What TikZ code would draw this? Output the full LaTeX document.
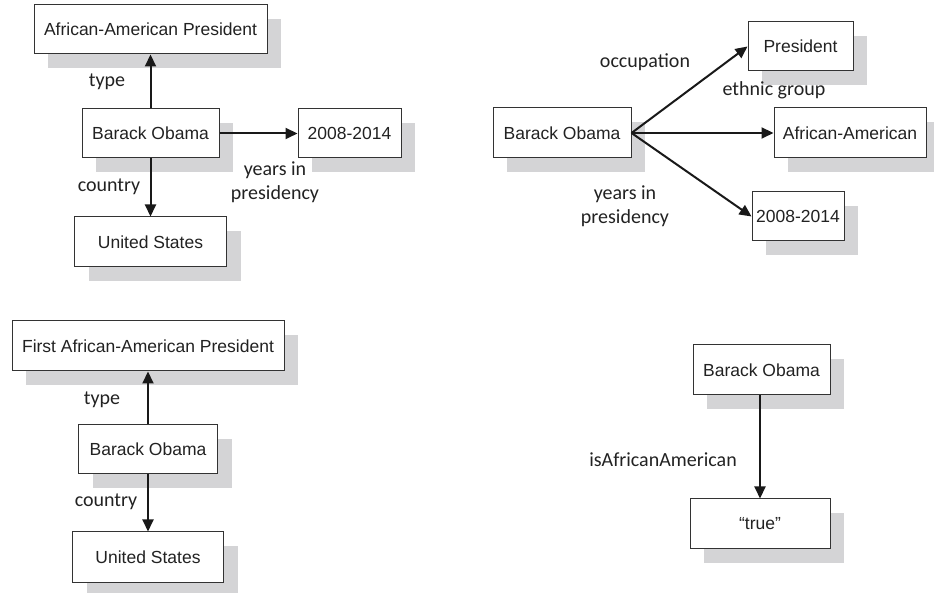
\documentclass[tikz,border=0pt]{standalone}
\usepackage{fontspec}
\setmainfont{Liberation Sans}
\newfontfamily\labelfont{Carlito}
\usetikzlibrary{arrows.meta,shadows}
\definecolor{shadowgray}{HTML}{D4D4D6}
\definecolor{boxline}{HTML}{333333}
\definecolor{inkgray}{HTML}{222222}
\tikzset{
  entity/.style={draw=boxline, line width=1pt, fill=white, inner sep=0pt,
    minimum height=49pt, font=\fontsize{17.5}{20}\selectfont, text=inkgray,
    drop shadow={shadow xshift=14pt, shadow yshift=-14pt, fill=shadowgray, opacity=1}},
  rel/.style={draw=black!90, line width=2pt,
    -{Triangle[length=12pt,width=11pt]}},
  edgelabel/.style={font=\labelfont\fontsize{20}{24}\selectfont, text=inkgray,
    align=center, inner sep=0pt}
}
\begin{document}
\begin{tikzpicture}[x=1pt,y=1pt]
\useasboundingbox (0,0) rectangle (934,593);

% Panel 1: Obama typed as an African-American President
\node[entity, minimum width=233pt] (ap1) at (150.5,563.5) {African-American President};
\node[entity, minimum width=137pt] (bo1) at (150.5,459.5) {Barack Obama};
\node[entity, minimum width=103pt] (yr1) at (349.5,459.5) {2008-2014};
\node[entity, minimum width=152pt, minimum height=50pt] (us1) at (150.5,351) {United States};
\draw[rel] (bo1.north) -- (ap1.south);
\draw[rel] (bo1.south) -- (us1.north);
\draw[rel] (bo1.east) -- (yr1.west);
\node[edgelabel] (t1) at (107,511) {type};
\node[edgelabel] (c1) at (109,406) {country};
\node[edgelabel] (y1) at (275,411) {years in\\presidency};

% Panel 2: separate occupation and ethnic group relations
\node[entity, minimum width=138pt, minimum height=50pt] (bo2) at (562,460) {Barack Obama};
\node[entity, minimum width=105pt] (pr2) at (800.5,546.5) {President};
\node[entity, minimum width=152pt, minimum height=50pt] (aa2) at (850,460) {African-American};
\node[entity, minimum width=92pt] (yr2) at (798,376.5) {2008-2014};
\draw[rel] (bo2.east) -- (pr2.west);
\draw[rel] (bo2.east) -- (aa2.west);
\draw[rel] (bo2.east) -- (yr2.west);
\node[edgelabel] (o2) at (645,531) {occupation};
\node[edgelabel] (e2) at (774,503) {ethnic group};
\node[edgelabel] (y2) at (625,387) {years in\\presidency};

% Panel 3: Obama typed as the First African-American President
\node[entity, minimum width=272pt, minimum height=50pt] (fa3) at (148,247) {First African-American President};
\node[entity, minimum width=139pt] (bo3) at (148,143.5) {Barack Obama};
\node[entity, minimum width=151pt, minimum height=51pt] (us3) at (148,35.5) {United States};
\draw[rel] (bo3.north) -- (fa3.south);
\draw[rel] (bo3.south) -- (us3.north);
\node[edgelabel] (t3) at (102,193) {type};
\node[edgelabel] (c3) at (106,91) {country};

% Panel 4: boolean attribute
\node[entity, minimum width=137pt, minimum height=50pt] (bo4) at (761.5,223) {Barack Obama};
\node[entity, minimum width=140pt, minimum height=50pt] (tr4) at (760,69) {“true”};
\draw[rel] (bo4.south -| tr4.north) -- (tr4.north);
\node[edgelabel] (i4) at (663,133) {isAfricanAmerican};
\end{tikzpicture}
\end{document}
